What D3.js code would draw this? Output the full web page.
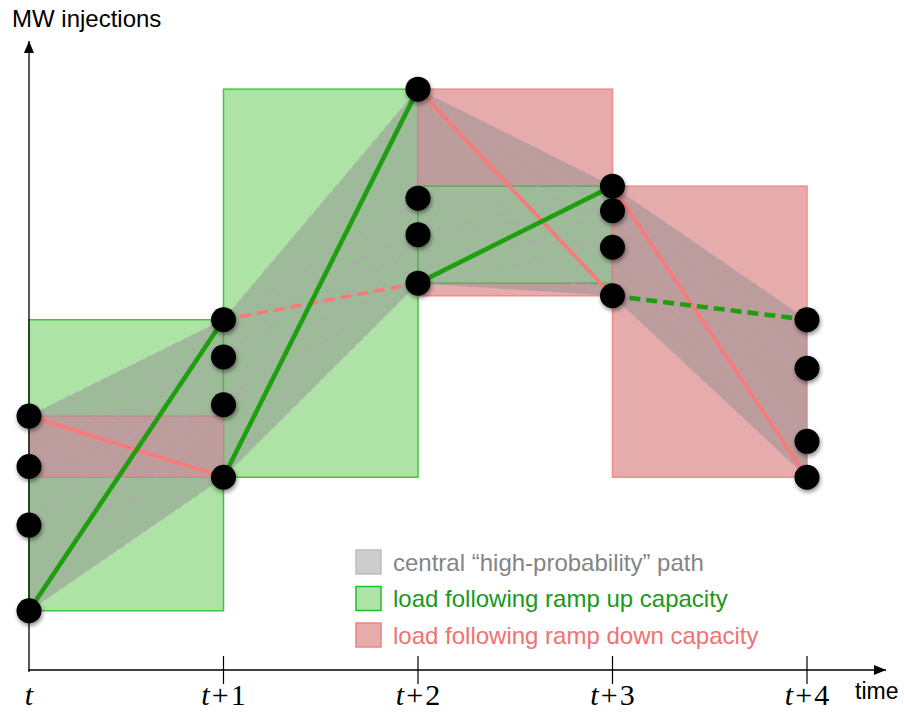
<!DOCTYPE html>
<html>
<head>
<meta charset="utf-8">
<script src="https://cdn.jsdelivr.net/npm/d3@7"></script>
<style>
  html, body { margin: 0; padding: 0; background: #fff; }
  svg { display: block; }
</style>
</head>
<body>
<svg id="chart" width="904" height="713"></svg>
<script>
// ---------------- data ----------------
const periods = ["t", "t+1", "t+2", "t+3", "t+4"];
// MW levels of the possible injection states at each period (arbitrary units, 0-100)
const levels0 = [40.3, 32.3, 23.0, 9.4];
const levels1 = [55.6, 49.7, 42.1, 30.6];
const levels2 = [92.2, 74.9, 69.1, 61.4];
const levels3 = [76.8, 72.9, 67.1, 59.4];
const levels4 = [55.6, 47.9, 36.3, 30.6];
const levels = [levels0, levels1, levels2, levels3, levels4];

// capacity boxes: [start period index, low MW, high MW]
const rampUpBoxes = [[0, 9.4, 55.6], [1, 30.6, 92.2], [2, 61.4, 76.8]];
const rampDownBoxes = [[0, 30.6, 40.3], [2, 59.4, 92.2], [3, 30.6, 76.8]];
// drawing order of the boxes
const boxOrder = [["up", 0], ["up", 1], ["down", 0], ["down", 1], ["up", 2], ["down", 2]];

// highlighted transitions: [from period, from state, to state, dashed]
const rampUpPaths = [[0, 3, 0, false], [1, 3, 0, false], [2, 3, 0, false], [3, 3, 0, true]];
const rampDownPaths = [[0, 0, 3, false], [1, 0, 3, true], [2, 0, 3, false], [3, 0, 3, false]];

const legendItems = ["central \u201chigh-probability\u201d path",
                     "load following ramp up capacity",
                     "load following ramp down capacity"];

// ---------------- setup ----------------
const svg = d3.select("#chart");
const x = d3.scalePoint().domain(periods).range([29, 807]);
const y = d3.scaleLinear().domain([0, 100]).range([670, 40]);
const xi = i => x(periods[i]);

const GREEN_FILL = "#aee3a6", GREEN_STROKE = "#3fc83f";
const RED_FILL = "#e6acac", RED_STROKE = "#f48a8a";
const GREEN_LINE = "#1f9e10", RED_LINE = "#f77b7b";

const defs = svg.append("defs");
const f = defs.append("filter").attr("id", "shadow")
  .attr("x", "-50%").attr("y", "-50%").attr("width", "200%").attr("height", "200%");
f.append("feDropShadow").attr("dx", 1).attr("dy", 2.5).attr("stdDeviation", 2)
  .attr("flood-color", "#000").attr("flood-opacity", 0.45);
defs.append("marker").attr("id", "arrow")
  .attr("viewBox", "0 0 10 10").attr("refX", 10).attr("refY", 5)
  .attr("markerWidth", 12).attr("markerHeight", 12).attr("markerUnits", "userSpaceOnUse")
  .attr("orient", "auto")
  .append("path").attr("d", "M0,0.8 L10,5 L0,9.2 Z").attr("fill", "#000");

// ---------------- boxes ----------------
const gBoxes = svg.append("g");
boxOrder.forEach(([kind, k]) => {
  const b = kind === "up" ? rampUpBoxes[k] : rampDownBoxes[k];
  gBoxes.append("rect")
    .attr("x", xi(b[0])).attr("y", y(b[2]))
    .attr("width", xi(b[0] + 1) - xi(b[0]))
    .attr("height", y(b[1]) - y(b[2]))
    .attr("fill", kind === "up" ? GREEN_FILL : RED_FILL)
    .attr("stroke", kind === "up" ? GREEN_STROKE : RED_STROKE)
    .attr("stroke-width", 1.5);
});

// ---------------- gray hull and faint transitions ----------------
const gHull = svg.append("g");
for (let i = 0; i < periods.length - 1; i++) {
  const pts = [];
  levels[i].forEach(v => pts.push([xi(i), y(v)]));
  levels[i + 1].forEach(v => pts.push([xi(i + 1), y(v)]));
  const hull = d3.polygonHull(pts);
  gHull.append("path")
    .attr("d", "M" + hull.join("L") + "Z")
    .attr("fill", "rgb(136,136,136)").attr("fill-opacity", 0.44)
    .attr("stroke", "none");
  levels[i].forEach(a => levels[i + 1].forEach(b => {
    gHull.append("line")
      .attr("x1", xi(i)).attr("y1", y(a)).attr("x2", xi(i + 1)).attr("y2", y(b))
      .attr("stroke", "#b8a3b8").attr("stroke-opacity", 0.55)
      .attr("stroke-width", 1.3).attr("stroke-dasharray", "6,4");
  }));
}

// ---------------- highlighted paths ----------------
const gPaths = svg.append("g");
function drawPath(p, color, width) {
  const [i, s0, s1, dashed] = p;
  gPaths.append("line")
    .attr("x1", xi(i)).attr("y1", y(levels[i][s0]))
    .attr("x2", xi(i + 1)).attr("y2", y(levels[i + 1][s1]))
    .attr("stroke", color).attr("stroke-width", width)
    .attr("stroke-dasharray", dashed ? "11,6" : null);
}
rampDownPaths.forEach(p => drawPath(p, RED_LINE, 3.8));
rampUpPaths.forEach(p => drawPath(p, GREEN_LINE, 4.6));

// ---------------- axes ----------------
const gAxis = svg.append("g");
gAxis.append("line").attr("x1", 29).attr("y1", y(0) + 2).attr("x2", 29).attr("y2", 41)
  .attr("stroke", "#000").attr("stroke-width", 1.3).attr("marker-end", "url(#arrow)");
gAxis.append("line").attr("x1", 28.4).attr("y1", y(0)).attr("x2", 886).attr("y2", y(0))
  .attr("stroke", "#000").attr("stroke-width", 1.3).attr("marker-end", "url(#arrow)");
periods.slice(1).forEach(p => {
  gAxis.append("line").attr("x1", x(p)).attr("x2", x(p))
    .attr("y1", y(0) - 14).attr("y2", y(0) + 14)
    .attr("stroke", "#000").attr("stroke-width", 1.2);
});
periods.forEach(p => {
  const t = gAxis.append("text").attr("x", x(p)).attr("y", 705)
    .attr("text-anchor", "middle")
    .attr("font-family", "'Liberation Serif', 'DejaVu Serif', serif")
    .attr("font-size", 30).attr("fill", "#000");
  const parts = p.split("+");
  t.append("tspan").attr("font-style", "italic").text(parts[0]);
  if (parts.length > 1) {
    t.append("tspan").attr("dx", 2).text("+");
    t.append("tspan").attr("dx", 2).text(parts[1]);
  }
});
gAxis.append("text").attr("x", 855).attr("y", 699)
  .attr("font-family", "'Liberation Sans', Arial, sans-serif").attr("font-size", 23)
  .attr("fill", "#000").text("time");
gAxis.append("text").attr("x", 12).attr("y", 27)
  .attr("font-family", "'Liberation Sans', Arial, sans-serif").attr("font-size", 24)
  .attr("fill", "#000").text("MW injections");

// ---------------- dots ----------------
const gDots = svg.append("g").attr("filter", "url(#shadow)");
levels.forEach((col, i) => col.forEach(v => {
  gDots.append("circle").attr("cx", xi(i)).attr("cy", y(v)).attr("r", 12.5).attr("fill", "#000");
}));

// ---------------- legend ----------------
const legendFill = ["#cdcdcd", GREEN_FILL, RED_FILL];
const legendStroke = ["#bdbdbd", "#22c022", "#f48080"];
const legendText = ["#858585", "#1a991a", "#f07272"];
const gLeg = svg.append("g").attr("transform", "translate(356,550)");
legendItems.forEach((txt, k) => {
  gLeg.append("rect").attr("x", 0).attr("y", k * 36.5).attr("width", 25).attr("height", 24)
    .attr("fill", legendFill[k]).attr("stroke", legendStroke[k]).attr("stroke-width", 1.5);
  gLeg.append("text").attr("x", 37).attr("y", k * 36.5 + 20.5)
    .attr("font-family", "'Liberation Sans', Arial, sans-serif").attr("font-size", 24)
    .attr("fill", legendText[k]).text(txt);
});
</script>
</body>
</html>
